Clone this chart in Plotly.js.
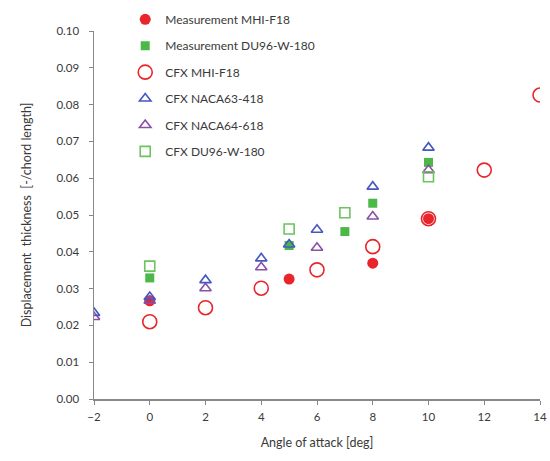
<!DOCTYPE html>
<html><head><meta charset="utf-8">
<script src="https://cdn.plot.ly/plotly-3.0.1.min.js"></script>
<style>html,body{margin:0;padding:0;background:#fff}#chart{width:550px;height:461px}</style>
</head><body><div id="chart"></div>
<script>
// Data
const measMhiX = [0, 5, 8, 10];
const measMhiY = [0.0267, 0.0326, 0.0369, 0.0490];
const measDuX = [0, 5, 7, 8, 10];
const measDuY = [0.0329, 0.0417, 0.0455, 0.0532, 0.0643];
const cfxMhiX = [0, 2, 4, 6, 8, 10, 12, 14];
const cfxMhiY = [0.0210, 0.0248, 0.0301, 0.0351, 0.0414, 0.0490, 0.0622, 0.0826];
const cfx63X = [-2, 0, 2, 4, 5, 6, 8, 10];
const cfx63Y = [0.0234, 0.0277, 0.0323, 0.0382, 0.0420, 0.0460, 0.0577, 0.0683];
const cfx64X = [-2, 0, 2, 4, 6, 8, 10];
const cfx64Y = [0.0223, 0.0267, 0.0301, 0.0358, 0.0411, 0.0496, 0.0622];
const cfxDuX = [0, 5, 7, 10];
const cfxDuY = [0.0361, 0.0462, 0.0506, 0.0604];
const names = ['Measurement MHI-F18', 'Measurement DU96-W-180', 'CFX MHI-F18', 'CFX NACA63-418', 'CFX NACA64-618', 'CFX DU96-W-180'];

const red = '#e8252b', green = '#4cb848', blue = '#4657c0', purple = '#8a4fa6', green2 = '#6cc45e';
function tr(x, y, name, symbol, color, size, lw, grp, rank) {
  return {x: x, y: y, name: name, type: 'scatter', mode: 'markers', legendgroup: grp, legendrank: rank,
    marker: {symbol: symbol, color: color, size: size, line: {color: color, width: lw}}};
}
const data = [
  tr(cfxMhiX, cfxMhiY, names[2], 'circle-open', red, 14, 1.6, 'c', 3),
  tr(measMhiX, measMhiY, names[0], 'circle', red, 11, 0, 'a', 1),
  tr(measDuX, measDuY, names[1], 'square', green, 9, 0, 'b', 2),
  tr(cfx64X, cfx64Y, names[4], 'triangle-up-open', purple, 10, 1.6, 'e', 5),
  tr(cfx63X, cfx63Y, names[3], 'triangle-up-open', blue, 10, 1.6, 'd', 4),
  tr(cfxDuX, cfxDuY, names[5], 'square-open', green2, 10, 1.6, 'f', 6)
];
const layout = {
  width: 550, height: 461,
  margin: {l: 94, r: 10, t: 31, b: 62, autoexpand: false},
  paper_bgcolor: '#fff', plot_bgcolor: '#fff',
  font: {family: 'Lato, "Open Sans", sans-serif', size: 11, color: '#3a3a3a'},
  showlegend: true,
  legend: {x: 0.07, y: 1.071, xanchor: 'left', yanchor: 'top', traceorder: 'grouped', tracegroupgap: 7.4,
    font: {family: 'Lato, "Open Sans", sans-serif', size: 12, color: '#3a3a3a'}, bgcolor: 'rgba(0,0,0,0)'},
  xaxis: {range: [-2, 14], dtick: 2, tick0: -2, showgrid: false, zeroline: false,
    showline: true, linecolor: '#888', linewidth: 1.5, ticks: 'outside', ticklen: 4, tickcolor: '#888',
    ticklabelstandoff: 3,
    tickfont: {size: 11.5, color: '#3a3a3a'},
    title: {text: 'Angle of attack [deg]', font: {size: 12.5, color: '#3a3a3a'}, standoff: 16}},
  yaxis: {range: [0, 0.1], dtick: 0.01, tickformat: '.2f', showgrid: false, zeroline: false,
    showline: true, linecolor: '#888', linewidth: 1.5, ticks: 'outside', ticklen: 4, tickcolor: '#888',
    ticklabelstandoff: 7,
    tickfont: {size: 11.5, color: '#3a3a3a'},
    title: {text: 'Displacement  thickness  [-/chord length]', font: {size: 12.5, color: '#3a3a3a'}, standoff: 22}}
};
Plotly.newPlot('chart', data, layout, {displayModeBar: false, staticPlot: true});
</script></body></html>
